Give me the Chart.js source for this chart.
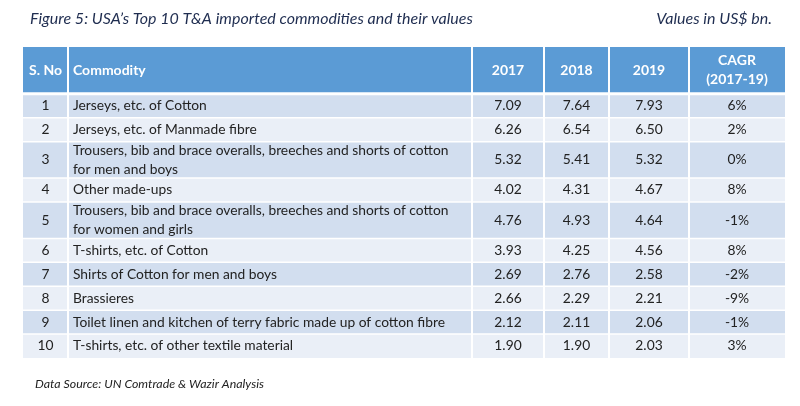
<!DOCTYPE html>
<html>
<head>
<meta charset="utf-8">
<script src="https://cdn.jsdelivr.net/npm/chart.js@4.4.0/dist/chart.umd.min.js"></script>
<style>
  html, body { margin: 0; padding: 0; background: #fff; }
</style>
</head>
<body>
<canvas id="tableChart" width="800" height="406"></canvas>
<script>
// Table data
const headers = ['S. No', 'Commodity', '2017', '2018', '2019', 'CAGR\n(2017-19)'];
const commodities = [
    'Jerseys, etc. of Cotton',
    'Jerseys, etc. of Manmade fibre',
    'Trousers, bib and brace overalls, breeches and shorts of cotton\nfor men and boys',
    'Other made-ups',
    'Trousers, bib and brace overalls, breeches and shorts of cotton\nfor women and girls',
    'T-shirts, etc. of Cotton',
    'Shirts of Cotton for men and boys',
    'Brassieres',
    'Toilet linen and kitchen of terry fabric made up of cotton fibre',
    'T-shirts, etc. of other textile material'
];
const values2017 = [7.09, 6.26, 5.32, 4.02, 4.76, 3.93, 2.69, 2.66, 2.12, 1.90];
const values2018 = [7.64, 6.54, 5.41, 4.31, 4.93, 4.25, 2.76, 2.29, 2.11, 1.90];
const values2019 = [7.93, 6.50, 5.32, 4.67, 4.64, 4.56, 2.58, 2.21, 2.06, 2.03];
const cagr = [6, 2, 0, 8, -1, 8, -2, -9, -1, 3];

const titleText = 'Figure 5: USA\u2019s Top 10 T&A imported commodities and their values';
const unitText = 'Values in US$ bn.';
const sourceText = 'Data Source: UN Comtrade & Wazir Analysis';

// Layout (scale units)
const colWidths = [45, 404, 72, 65, 80, 96];
const headerHeight = 47;
const oneLineRow = 24;
const twoLineRow = 36.5;
const lineGap = 19;

const FONT = 'Lato, "Open Sans", sans-serif';

const colEdges = [0];
colWidths.forEach(w => colEdges.push(colEdges[colEdges.length - 1] + w));

const rowEdges = [0, headerHeight];
commodities.forEach(c => {
    const h = c.split('\n').length > 1 ? twoLineRow : oneLineRow;
    rowEdges.push(rowEdges[rowEdges.length - 1] + h);
});

const rowCells = commodities.map((c, i) => [
    String(i + 1),
    c,
    values2017[i].toFixed(2),
    values2018[i].toFixed(2),
    values2019[i].toFixed(2),
    cagr[i] + '%'
]);

function drawLines(ctx, text, xPos, yMid, align) {
    const lines = text.split('\n');
    ctx.textAlign = align;
    lines.forEach((line, k) => {
        const yy = yMid + (k - (lines.length - 1) / 2) * lineGap;
        ctx.fillText(line, xPos, yy);
    });
}

const tablePlugin = {
    id: 'tablePlugin',
    afterDraw(chart) {
        const ctx = chart.ctx;
        const xs = chart.scales.x;
        const ys = chart.scales.y;
        const px = v => xs.getPixelForValue(v);
        const py = v => ys.getPixelForValue(v);
        const left = px(0), right = px(colEdges[colEdges.length - 1]);

        ctx.save();

        // Header background
        ctx.fillStyle = '#5b9bd5';
        ctx.fillRect(left, py(0), right - left, py(headerHeight) - py(0));

        // Body bands
        for (let r = 0; r < rowCells.length; r++) {
            ctx.fillStyle = r % 2 === 0 ? '#d2deef' : '#eaeff7';
            ctx.fillRect(left, py(rowEdges[r + 1]), right - left, py(rowEdges[r + 2]) - py(rowEdges[r + 1]));
        }

        // White grid lines
        ctx.strokeStyle = '#ffffff';
        ctx.lineWidth = 2;
        colEdges.slice(1, -1).forEach(e => {
            ctx.beginPath();
            ctx.moveTo(px(e), py(0));
            ctx.lineTo(px(e), py(rowEdges[rowEdges.length - 1]));
            ctx.stroke();
        });
        rowEdges.slice(1, -1).forEach((e, k) => {
            ctx.lineWidth = k === 0 ? 3 : 1.5;
            ctx.beginPath();
            ctx.moveTo(left, py(e));
            ctx.lineTo(right, py(e));
            ctx.stroke();
        });

        ctx.textBaseline = 'middle';

        // Header text
        ctx.fillStyle = '#ffffff';
        ctx.font = 'bold 14px ' + FONT;
        headers.forEach((h, c) => {
            const mid = (py(0) + py(headerHeight)) / 2;
            if (c === 1) {
                drawLines(ctx, h, px(colEdges[c]) + 5, mid, 'left');
            } else {
                drawLines(ctx, h, (px(colEdges[c]) + px(colEdges[c + 1])) / 2, mid, 'center');
            }
        });

        // Body text
        ctx.fillStyle = '#222222';
        ctx.font = '13.8px ' + FONT;
        rowCells.forEach((cells, r) => {
            const mid = (py(rowEdges[r + 1]) + py(rowEdges[r + 2])) / 2;
            cells.forEach((t, c) => {
                if (c === 1) {
                    drawLines(ctx, t, px(colEdges[c]) + 5, mid, 'left');
                } else {
                    drawLines(ctx, t, (px(colEdges[c]) + px(colEdges[c + 1])) / 2, mid, 'center');
                }
            });
        });

        // Title, unit note and source
        ctx.fillStyle = '#1f2d50';
        ctx.font = 'italic 16px ' + FONT;
        ctx.textAlign = 'left';
        ctx.fillText(titleText, 30, 19);
        ctx.textAlign = 'right';
        ctx.fillText(unitText, 772, 19);

        ctx.fillStyle = '#222222';
        ctx.font = 'italic 12.4px ' + FONT;
        ctx.textAlign = 'left';
        ctx.fillText(sourceText, 35, 384);

        ctx.restore();
    }
};

new Chart(document.getElementById('tableChart'), {
    type: 'scatter',
    data: { datasets: [] },
    options: {
        responsive: false,
        animation: false,
        layout: { padding: { left: 23, right: 15, top: 47, bottom: 48 } },
        plugins: {
            legend: { display: false },
            tooltip: { enabled: false }
        },
        scales: {
            x: { type: 'linear', display: false, min: 0, max: colEdges[colEdges.length - 1] },
            y: { type: 'linear', display: false, reverse: true, min: 0, max: rowEdges[rowEdges.length - 1] }
        }
    },
    plugins: [tablePlugin]
});
</script>
</body>
</html>
